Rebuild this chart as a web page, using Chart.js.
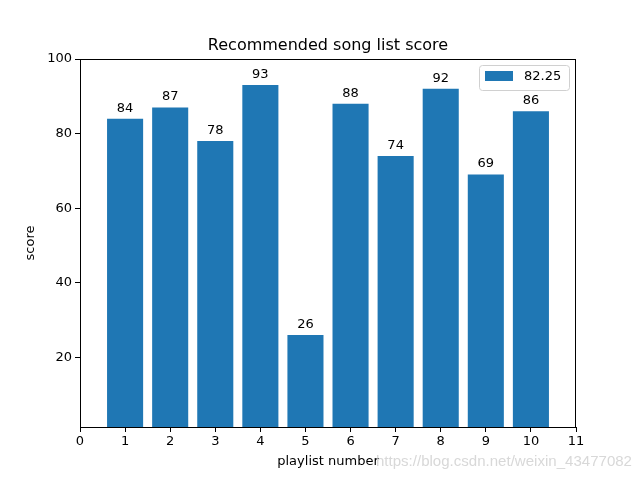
<!DOCTYPE html>
<html>
<head>
<meta charset="utf-8">
<script src="https://cdn.jsdelivr.net/npm/chart.js@4.4.1/dist/chart.umd.min.js"></script>
<style>
  html, body { margin: 0; padding: 0; background: #fff; }
  #wrap { width: 640px; height: 480px; }
</style>
</head>
<body>
<div id="wrap"><canvas id="canvas" width="640" height="480"></canvas></div>
<script>
// playlist numbers and their scores
let playlists = [1, 2, 3, 4, 5, 6, 7, 8, 9, 10];
let scores = [84, 87, 78, 93, 26, 88, 74, 92, 69, 86];
let xTicks = [0, 1, 2, 3, 4, 5, 6, 7, 8, 9, 10, 11];
let yTicks = [20, 40, 60, 80, 100];
let legendLabel = '82.25';

const FONT = 'DejaVu Sans';
const BLUE = '#1f77b4';

// frame, value labels, axis titles, title, legend and watermark
const extras = {
    id: 'extras',
    afterDatasetsDraw(chart) {
        const ctx = chart.ctx;
        const a = chart.chartArea;
        ctx.save();
        // value labels above bars
        ctx.fillStyle = '#000';
        ctx.font = '13px "' + FONT + '"';
        ctx.textAlign = 'center';
        ctx.textBaseline = 'bottom';
        chart.getDatasetMeta(0).data.forEach((bar, i) => {
            ctx.fillText(String(scores[i]), bar.x, bar.y - 4);
        });
        // spines
        ctx.strokeStyle = '#000';
        ctx.lineWidth = 1;
        ctx.strokeRect(a.left + 0.5, a.top + 0.5, a.right - a.left - 1, a.bottom - a.top);
        // title
        ctx.font = '16px "' + FONT + '"';
        ctx.textBaseline = 'alphabetic';
        ctx.fillText('Recommended song list score', (a.left + a.right) / 2, a.top - 9);
        // axis titles
        ctx.font = '13px "' + FONT + '"';
        ctx.textBaseline = 'middle';
        ctx.fillText('playlist number', (a.left + a.right) / 2, 462);
        ctx.save();
        ctx.translate(31, (a.top + a.bottom) / 2);
        ctx.rotate(-Math.PI / 2);
        ctx.fillText('score', 0, 0);
        ctx.restore();
        // legend
        const lx = 479, ly = 65, lw = 90, lh = 25;
        ctx.fillStyle = 'rgba(255,255,255,0.8)';
        ctx.strokeStyle = '#d0d0d0';
        ctx.beginPath();
        ctx.roundRect(lx + 0.5, ly + 0.5, lw, lh, 3);
        ctx.fill();
        ctx.stroke();
        ctx.fillStyle = BLUE;
        ctx.fillRect(485, 71, 28, 10);
        ctx.fillStyle = '#000';
        ctx.textAlign = 'left';
        ctx.fillText(legendLabel, 524, 77);
        // watermark
        ctx.fillStyle = 'rgba(200,200,200,0.7)';
        ctx.font = '16px "Liberation Sans"';
        const wm = 'https://blog.csdn.net/weixin_43477082';
        const sz = 16 * 256 / ctx.measureText(wm).width;
        ctx.font = sz.toFixed(2) + 'px "Liberation Sans"';
        ctx.fillText(wm, 376, 462);
        ctx.restore();
    }
};

new Chart(document.getElementById('canvas'), {
    type: 'bar',
    data: {
        datasets: [{
            label: legendLabel,
            data: playlists.map((p, i) => ({ x: p, y: scores[i] })),
            backgroundColor: BLUE,
            borderWidth: 0,
            barPercentage: 0.8,
            categoryPercentage: 1.0
        }]
    },
    options: {
        responsive: false,
        animation: false,
        events: [],
        layout: { padding: { left: 0, right: 64, top: 59, bottom: 0 } },
        plugins: {
            legend: { display: false },
            title: { display: false },
            tooltip: { enabled: false }
        },
        scales: {
            x: {
                type: 'linear',
                min: 0,
                max: 11,
                offset: false,
                afterBuildTicks: (axis) => { axis.ticks = xTicks.map(v => ({ value: v })); },
                afterFit: (axis) => { axis.height = 53; },
                grid: { display: true, offset: false, drawOnChartArea: false, drawTicks: true, tickLength: 5, color: '#000' },
                border: { display: true, color: '#000', width: 1 },
                ticks: { color: '#000', font: { family: FONT, size: 13 }, padding: 2, maxRotation: 0, autoSkip: false }
            },
            y: {
                min: 1.3,
                max: 100,
                afterBuildTicks: (axis) => { axis.ticks = yTicks.map(v => ({ value: v })); },
                afterFit: (axis) => { axis.width = 80; },
                grid: { display: true, drawOnChartArea: false, drawTicks: true, tickLength: 5, color: '#000' },
                border: { display: true, color: '#000', width: 1 },
                ticks: { color: '#000', font: { family: FONT, size: 13 }, padding: 3 }
            }
        }
    },
    plugins: [extras]
});
</script>
</body>
</html>
